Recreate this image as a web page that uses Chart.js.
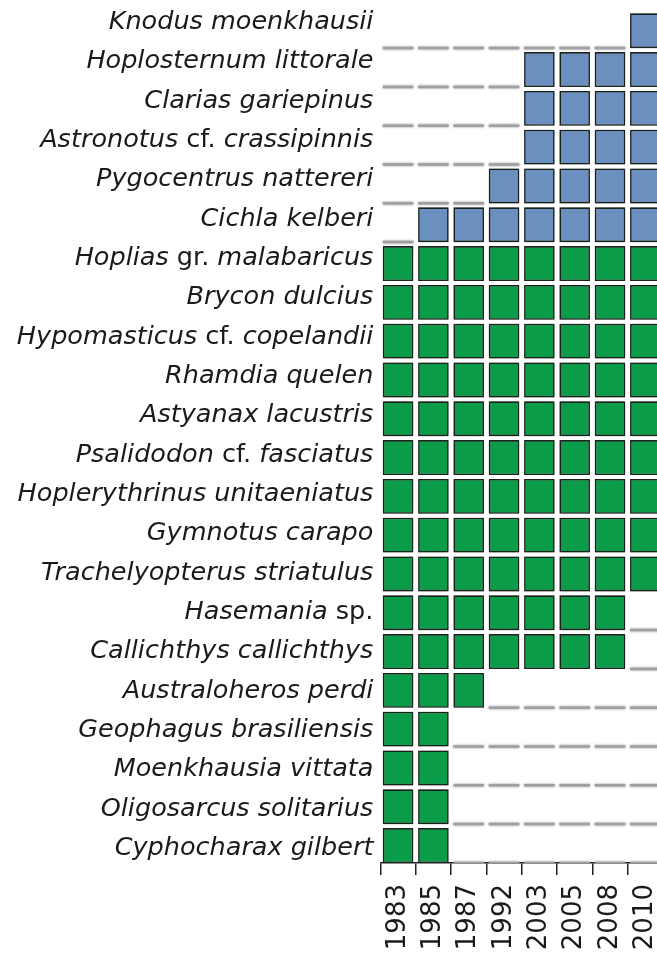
<!DOCTYPE html>
<html><head><meta charset="utf-8">
<script src="https://cdn.jsdelivr.net/npm/chart.js@4/dist/chart.umd.min.js"></script>
<style>
html,body{margin:0;padding:0;background:#fff;overflow:hidden;width:657px;height:959px}
#wrap{position:absolute;left:0;top:0;width:666px;height:959px}
</style>
</head><body><div id="wrap"><canvas id="c"></canvas></div>
<script>
const years = ['1983','1985','1987','1992','2003','2005','2008','2010'];
const species = [
  'Knodus moenkhausii','Hoplosternum littorale','Clarias gariepinus','Astronotus cf. crassipinnis',
  'Pygocentrus nattereri','Cichla kelberi','Hoplias gr. malabaricus','Brycon dulcius',
  'Hypomasticus cf. copelandii','Rhamdia quelen','Astyanax lacustris','Psalidodon cf. fasciatus',
  'Hoplerythrinus unitaeniatus','Gymnotus carapo','Trachelyopterus striatulus','Hasemania sp.',
  'Callichthys callichthys','Australoheros perdi','Geophagus brasiliensis','Moenkhausia vittata',
  'Oligosarcus solitarius','Cyphocharax gilbert'
];
const origin = ['introduced','introduced','introduced','introduced','introduced','introduced',
  'native','native','native','native','native','native','native','native','native','native',
  'native','native','native','native','native','native'];
const presence = [
  [0,0,0,0,0,0,0,1],
  [0,0,0,0,1,1,1,1],
  [0,0,0,0,1,1,1,1],
  [0,0,0,0,1,1,1,1],
  [0,0,0,1,1,1,1,1],
  [0,1,1,1,1,1,1,1],
  [1,1,1,1,1,1,1,1],
  [1,1,1,1,1,1,1,1],
  [1,1,1,1,1,1,1,1],
  [1,1,1,1,1,1,1,1],
  [1,1,1,1,1,1,1,1],
  [1,1,1,1,1,1,1,1],
  [1,1,1,1,1,1,1,1],
  [1,1,1,1,1,1,1,1],
  [1,1,1,1,1,1,1,1],
  [1,1,1,1,1,1,1,0],
  [1,1,1,1,1,1,1,0],
  [1,1,1,0,0,0,0,0],
  [1,1,0,0,0,0,0,0],
  [1,1,0,0,0,0,0,0],
  [1,1,0,0,0,0,0,0],
  [1,1,0,0,0,0,0,0]
];
const uprightWords = ['gr.','cf.','sp.'];

const colors = {introduced:'#6b8fbe', native:'#0a9c48', absent:'#a0a0a0', edge:'#1d261f'};

const datasets = species.map((name, i) => ({
  label: name,
  data: presence[i].map(p => p ? [i + 0.1, i + 1] : [i + 0.965, i + 1.03]),
  backgroundColor: presence[i].map(p => p ? colors[origin[i]] : colors.absent),
  borderColor: colors.edge,
  borderWidth: presence[i].map(p => p ? 1.6 : 0),
  borderSkipped: false,
  grouped: false,
  categoryPercentage: 1,
  barPercentage: 0.865
}));

const labelPlugin = {
  id: 'speciesLabels',
  beforeDatasetsDraw(chart) {
    const ctx = chart.ctx;
    ctx.save();
    ctx.shadowColor = 'rgba(0,0,0,0.45)';
    ctx.shadowBlur = 2.5;
  },
  afterDatasetsDraw(chart) {
    chart.ctx.restore();
  },
  afterDraw(chart) {
    const ctx = chart.ctx;
    const ys = chart.scales.y;
    const right = chart.chartArea.left - 7;
    ctx.save();
    ctx.fillStyle = '#1a1a1a';
    ctx.textBaseline = 'alphabetic';
    species.forEach((name, i) => {
      const y = ys.getPixelForValue(0.505 + i * 1.0137);
      const words = name.split(' ');
      const parts = words.map((w, k) => ({
        text: (k ? ' ' : '') + w,
        font: (uprightWords.includes(w) ? '' : 'italic ') + '25.5px "DejaVu Sans"'
      }));
      let total = 0;
      parts.forEach(p => { ctx.font = p.font; p.w = ctx.measureText(p.text).width; total += p.w; });
      let x = right - total;
      parts.forEach(p => { ctx.font = p.font; ctx.fillText(p.text, x, y); x += p.w; });
    });
    ctx.restore();
  }
};

new Chart(document.getElementById('c'), {
  type: 'bar',
  data: { labels: years, datasets },
  options: {
    responsive: true,
    maintainAspectRatio: false,
    animation: false,
    layout: { padding: { top: 9.4, right: 3, left: 0, bottom: 0 } },
    plugins: { legend: { display: false }, tooltip: { enabled: false } },
    scales: {
      x: {
        offset: true,
        grid: { display: true, drawOnChartArea: false, drawTicks: true, tickLength: 12, color: '#222', lineWidth: 1.5 },
        border: { display: true, color: '#222', width: 1.5 },
        ticks: { color: '#1a1a1a', minRotation: 90, maxRotation: 90, padding: 9,
                 font: { family: '"DejaVu Sans"', size: 26 } },
        afterFit(s) { s.height = 96; s.paddingLeft = 0; s.paddingRight = 0; }
      },
      y: {
        reverse: true, min: 0, max: 22,
        grid: { display: false },
        border: { display: false },
        ticks: { display: false },
        afterFit(s) { s.width = 380.4; }
      }
    }
  },
  plugins: [labelPlugin]
});
</script></body></html>
